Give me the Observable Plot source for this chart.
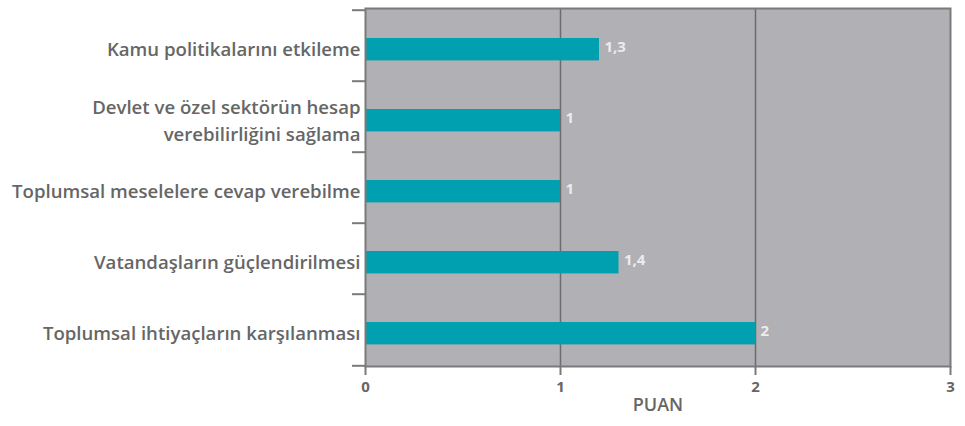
<!DOCTYPE html>
<html>
<head>
<meta charset="utf-8">
<script src="https://cdn.jsdelivr.net/npm/d3@7"></script>
<script src="https://cdn.jsdelivr.net/npm/@observablehq/plot@0.6"></script>
<style>
  body { margin: 0; background: #fff; }
  #chart svg { display: block; }
</style>
</head>
<body>
<div id="chart"></div>
<script>
const categories = [
  "Kamu politikalarını etkileme",
  "Devlet ve özel sektörün hesap\nverebilirliğini sağlama",
  "Toplumsal meselelere cevap verebilme",
  "Vatandaşların güçlendirilmesi",
  "Toplumsal ihtiyaçların karşılanması"
];
const values = [1.2, 1.0, 1.0, 1.3, 2.0];
const valueLabels = ["1,3", "1", "1", "1,4", "2"];
const xTicks = [0, 1, 2, 3];
const gridValues = [1, 2];
const axisTitle = "PUAN";

const rows = categories.map((c, i) => ({category: c, value: values[i], label: valueLabels[i]}));

const W = 965, H = 426, mT = 8, mB = 60;
const halfStep = (H - mT - mB) / categories.length / 2;

const chart = Plot.plot({
  width: W,
  height: H,
  marginLeft: 365,
  marginRight: 15,
  marginTop: mT,
  marginBottom: mB,
  x: {domain: [0, 3]},
  y: {domain: categories, padding: 0},
  style: {fontFamily: "'Open Sans', sans-serif", color: "#666", background: "#fff", overflow: "visible"},
  marks: [
    Plot.frame({fill: "#b0b0b5", stroke: null}),
    Plot.ruleX(gridValues, {stroke: "#6c6c6c", strokeWidth: 1.5}),
    Plot.barX(rows, {x: "value", y: "category", fill: "#00a0b0", insetTop: 28, insetBottom: 20.6}),
    Plot.text(rows, {x: "value", y: "category", text: "label", textAnchor: "start", dx: 5, dy: 1,
      fill: "#ececec", fontSize: 15, fontWeight: 700}),
    Plot.frame({stroke: "#7a7a7a", strokeWidth: 2}),
    Plot.axisY({tickSize: 13, fill: "none", stroke: "#7a7a7a", strokeWidth: 2, dy: -halfStep, label: null, tickFormat: () => ""}),
    Plot.axisY([categories[categories.length - 1]], {tickSize: 13, fill: "none", stroke: "#7a7a7a", strokeWidth: 2, dy: halfStep, label: null, tickFormat: () => ""}),
    Plot.axisY({tickSize: 0, tickPadding: 5, fill: "#666", fontSize: 18.6, fontWeight: 600, lineHeight: 1.48, dy: 1.5, label: null}),
    Plot.axisX(xTicks, {tickSize: 9, tickPadding: 6, stroke: "#7a7a7a", strokeWidth: 2, fill: "#666",
      fontSize: 15, fontWeight: 700, tickFormat: d => String(d), label: null}),
    Plot.text([axisTitle], {frameAnchor: "bottom", dy: 44, fill: "#666", fontSize: 18, fontWeight: 600})
  ]
});
document.getElementById("chart").appendChild(chart);
</script>
</body>
</html>
